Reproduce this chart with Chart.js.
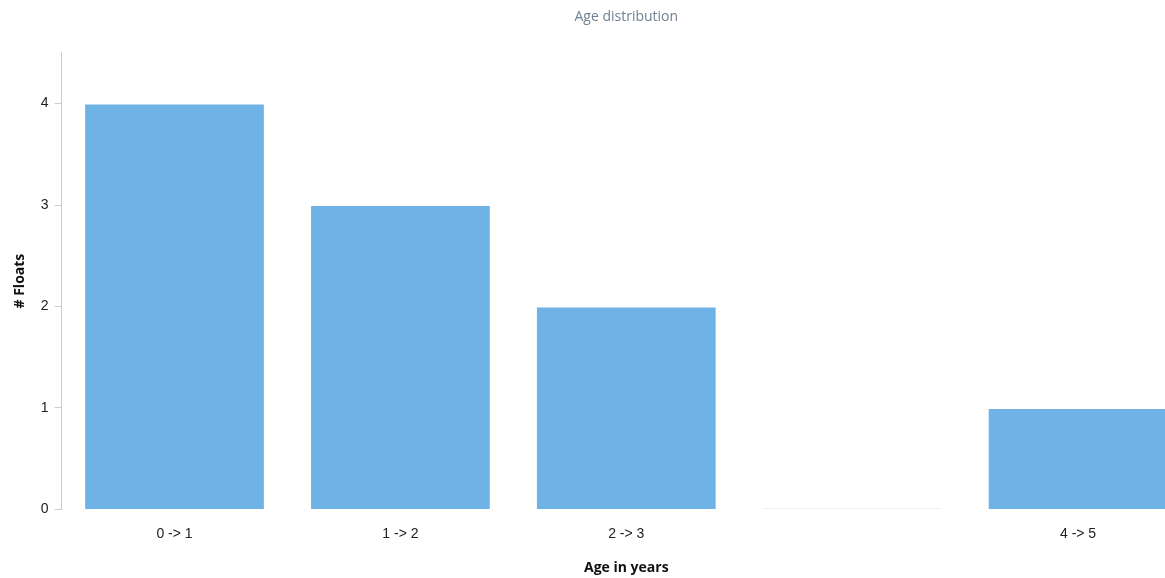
<!DOCTYPE html>
<html>
<head>
<meta charset="utf-8">
<script src="https://cdn.jsdelivr.net/npm/chart.js@4/dist/chart.umd.min.js"></script>
<style>
  html, body { margin: 0; padding: 0; overflow: hidden; background: #fff; }
  #wrap { width: 1195px; height: 578px; position: relative; }
</style>
</head>
<body>
<div id="wrap"><canvas id="ageChart"></canvas></div>
<script>
// ===== Data =====
const ageLabels = ["0 -> 1", "1 -> 2", "2 -> 3", "", "4 -> 5"];
const floatCounts = [4, 3, 2, 0, 1];
const yTicks = [0, 1, 2, 3, 4];

const barColor = "#6fb2e6";
const emptyColor = "#e4f1fa";

const ctx = document.getElementById("ageChart").getContext("2d");
new Chart(ctx, {
  type: "bar",
  data: {
    labels: ageLabels,
    datasets: [
      {
        label: "# Floats",
        data: floatCounts,
        backgroundColor: (c) => (c.raw === 0 ? emptyColor : barColor),
        borderColor: "rgba(255,255,255,0.35)",
        borderWidth: 1,
        minBarLength: 2,
        barPercentage: 0.8,
        categoryPercentage: 1,
      },
    ],
  },
  options: {
    responsive: true,
    maintainAspectRatio: false,
    animation: false,
    layout: { padding: { left: 12, right: 4, top: 0, bottom: 2 } },
    plugins: {
      legend: { display: false },
      tooltip: { enabled: false },
      title: {
        display: true,
        fullSize: false,
        text: "Age distribution",
        color: "#6f8192",
        font: { family: "Open Sans", size: 14, weight: "normal" },
        padding: { top: 9, bottom: 27 },
      },
    },
    scales: {
      x: {
        grid: { display: false },
        border: { display: false },
        ticks: {
          color: "#222",
          font: { family: "Liberation Sans", size: 14 },
          padding: 8,
          maxRotation: 0,
        },
        title: {
          display: true,
          text: "Age in years",
          color: "#111",
          font: { family: "Open Sans", size: 14, weight: "bold" },
          padding: { top: 9, bottom: 0 },
        },
      },
      y: {
        min: 0,
        max: 4.5,
        afterBuildTicks: (axis) => {
          axis.ticks = yTicks.map((v) => ({ value: v }));
        },
        grid: {
          drawOnChartArea: false,
          color: "#ccc",
          tickLength: 7,
        },
        border: { color: "#ccc", width: 1 },
        ticks: {
          color: "#222",
          font: { family: "Liberation Sans", size: 14 },
          padding: 6,
        },
        title: {
          display: true,
          text: "# Floats",
          color: "#111",
          font: { family: "Open Sans", size: 14, weight: "bold" },
          padding: { top: 0, bottom: 6 },
        },
      },
    },
  },
});
</script>
</body>
</html>
